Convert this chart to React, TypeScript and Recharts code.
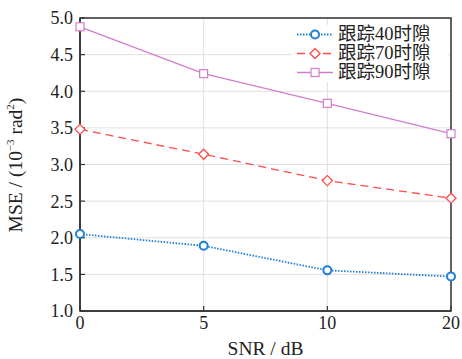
import React from 'react';
import { LineChart, Line, XAxis, YAxis, CartesianGrid, ReferenceArea } from 'recharts';

const snrLabels = ['0', '5', '10', '20'];
const track40 = [2.05, 1.89, 1.555, 1.47];
const track70 = [3.48, 3.14, 2.78, 2.54];
const track90 = [4.88, 4.24, 3.835, 3.42];
const yTicks = [1.0, 1.5, 2.0, 2.5, 3.0, 3.5, 4.0, 4.5, 5.0];
const seriesNames = ['跟踪40时隙', '跟踪70时隙', '跟踪90时隙'];

const data = snrLabels.map((s, i) => ({ snr: s, t40: track40[i], t70: track70[i], t90: track90[i] }));

const BLUE = '#1f7fd6';
const RED = '#ff4b4b';
const PURPLE = '#d27ccc';
const FONT = "'Liberation Serif', 'Times New Roman', 'Noto Sans CJK SC', serif";

const Circle = (p: any) => (
  <circle key={p.index} cx={p.cx} cy={p.cy} r={4} fill="#fff" stroke={BLUE} strokeWidth={2} />
);
const Diamond = (p: any) => (
  <polygon
    key={p.index}
    points={`${p.cx},${p.cy - 5} ${p.cx + 5},${p.cy} ${p.cx},${p.cy + 5} ${p.cx - 5},${p.cy}`}
    fill="#fff"
    stroke={RED}
    strokeWidth={1.3}
  />
);
const Square = (p: any) => (
  <rect key={p.index} x={p.cx - 4} y={p.cy - 4} width={8} height={8} fill="#fff" stroke={PURPLE} strokeWidth={1.2} />
);

const legendItems = [
  { name: seriesNames[0], color: BLUE, dash: '1.5 1.5', width: 1.8, marker: 'circle' },
  { name: seriesNames[1], color: RED, dash: '8 5', width: 1.3, marker: 'diamond' },
  { name: seriesNames[2], color: PURPLE, dash: undefined, width: 1.3, marker: 'square' },
];

const LegendIcon = ({ item }: any) => (
  <svg width={40} height={19} style={{ display: 'block' }}>
    <line x1={2} y1={9.5} x2={38} y2={9.5} stroke={item.color} strokeWidth={item.width} strokeDasharray={item.dash} />
    {item.marker === 'circle' && <circle cx={20} cy={9.5} r={4} fill="#fff" stroke={item.color} strokeWidth={2} />}
    {item.marker === 'diamond' && (
      <polygon points="20,4.5 25,9.5 20,14.5 15,9.5" fill="#fff" stroke={item.color} strokeWidth={1.3} />
    )}
    {item.marker === 'square' && <rect x={16} y={5.5} width={8} height={8} fill="#fff" stroke={item.color} strokeWidth={1.2} />}
  </svg>
);

const YLabel = () => (
  <text
    x={22}
    y={165}
    transform="rotate(-90 22 165)"
    textAnchor="middle"
    fontFamily={FONT}
    fontSize={19.5}
    fill="#222"
  >
    <tspan>MSE / (10</tspan>
    <tspan dy={-8} fontSize={11}>−3</tspan>
    <tspan dy={8}> rad</tspan>
    <tspan dy={-8} fontSize={11}>2</tspan>
    <tspan dy={8}>)</tspan>
  </text>
);

export default function App() {
  return (
    <div style={{ position: 'absolute', left: 0, top: 0, width: 462, height: 359, background: '#fff' }}>
      <LineChart width={462} height={359} data={data} margin={{ top: 18, right: 11, bottom: 0, left: 0 }}>
        <CartesianGrid stroke="#e0e0e0" strokeWidth={1} />
        <XAxis
          dataKey="snr"
          height={48}
          tickSize={-5}
          tickMargin={10}
          tick={{ fontFamily: FONT, fontSize: 18, fill: '#222' }}
          axisLine={{ stroke: '#333', strokeWidth: 1.5 }}
          tickLine={{ stroke: '#333', strokeWidth: 1.2 }}
          interval={0}
          label={{ value: 'SNR / dB', position: 'insideBottom', offset: 4, fontFamily: FONT, fontSize: 19.5, fill: '#222' }}
        />
        <YAxis
          type="number"
          domain={[1, 5]}
          ticks={yTicks}
          width={80}
          tickSize={-5}
          tickMargin={12}
          tickFormatter={(v: number) => v.toFixed(1)}
          tick={{ fontFamily: FONT, fontSize: 18, fill: '#222' }}
          axisLine={{ stroke: '#333', strokeWidth: 1.5 }}
          tickLine={{ stroke: '#333', strokeWidth: 1.2 }}
          interval={0}
          label={{ content: () => <YLabel /> }}
        />
        <ReferenceArea x1="0" x2="20" y1={1} y2={5} fill="none" stroke="#333" strokeWidth={1.5} ifOverflow="visible" />
        <Line dataKey="t40" name={seriesNames[0]} stroke={BLUE} strokeWidth={1.8} strokeDasharray="1.5 1.5" dot={Circle} isAnimationActive={false} />
        <Line dataKey="t70" name={seriesNames[1]} stroke={RED} strokeWidth={1.3} strokeDasharray="8 5" dot={Diamond} isAnimationActive={false} />
        <Line dataKey="t90" name={seriesNames[2]} stroke={PURPLE} strokeWidth={1.3} dot={Square} isAnimationActive={false} />
      </LineChart>
      <div
        style={{
          position: 'absolute',
          left: 292,
          top: 25,
          width: 156,
          background: '#fff',
          fontFamily: FONT,
          fontSize: 18.5,
          color: '#222',
          lineHeight: '19px',
        }}
      >
        {legendItems.map((it) => (
          <div key={it.name} style={{ display: 'flex', alignItems: 'center', height: 19, paddingLeft: 3 }}>
            <LegendIcon item={it} />
            <span
              style={{
                marginLeft: 3,
                whiteSpace: 'nowrap',
                display: 'inline-block',
                height: 19,
                lineHeight: '19px',
                overflow: 'visible',
              }}
            >
              {it.name}
            </span>
          </div>
        ))}
      </div>
    </div>
  );
}
